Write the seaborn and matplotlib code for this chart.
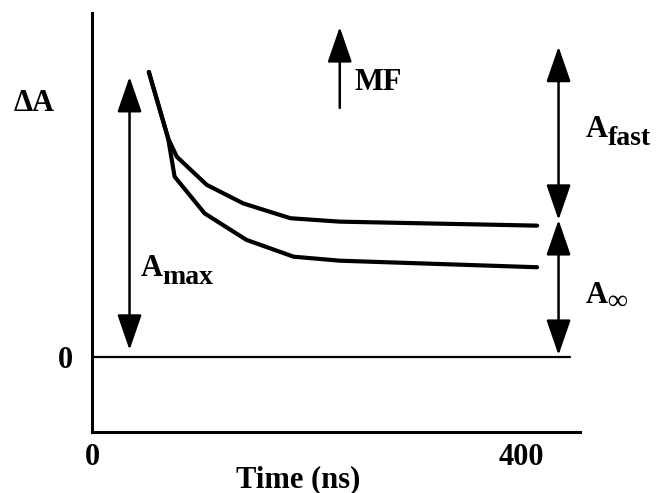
import pandas as pd
import seaborn as sns
import matplotlib.pyplot as plt
from matplotlib.patches import FancyArrowPatch

# decay traces: time (ns), dA scaled so the peak is 1
t_upper = [53, 71, 79, 107, 141, 185, 231, 415]
a_upper = [1.00, 0.767, 0.703, 0.604, 0.539, 0.487, 0.475, 0.461]
t_lower = [53, 71, 77, 105, 144, 188, 231, 415]
a_lower = [1.00, 0.767, 0.633, 0.504, 0.411, 0.352, 0.338, 0.315]

# baseline (dA = 0)
t_base = [0, 446]
a_base = [0, 0]

# arrows: (time, y_from, y_to)
arrow_amax = (35, 0.025, 0.983)
arrow_afast = (435, 0.481, 1.089)
arrow_ainf = (435, 0.007, 0.481)
arrow_mf = (231, 0.874, 1.158)

x_ticks = [0, 400]
x_ticklabels = ['0', '400']

sns.set_theme(style='white')
plt.rcParams['font.family'] = ['Liberation Serif', 'DejaVu Serif']
plt.rcParams['font.weight'] = 'bold'
plt.rcParams['text.color'] = 'black'
plt.rcParams['axes.labelcolor'] = 'black'

FS = 22

df = pd.concat([
    pd.DataFrame({'t': t_upper, 'dA': a_upper, 'trace': 'upper'}),
    pd.DataFrame({'t': t_lower, 'dA': a_lower, 'trace': 'lower'}),
])

fig = plt.figure(figsize=(6.66, 4.93), dpi=100)
ax = fig.add_axes([92 / 666, 1 - 432 / 493, 488 / 666, 419 / 493])

sns.lineplot(data=df, x='t', y='dA', units='trace', estimator=None,
             color='black', lw=3.0, sort=False, ax=ax, legend=False)
sns.lineplot(x=t_base, y=a_base, color='black', lw=1.6, ax=ax)

ax.set_xlim(0, 455)
ax.set_ylim(-0.263, 1.207)
for side in ['top', 'right']:
    ax.spines[side].set_visible(False)
for side in ['left', 'bottom']:
    ax.spines[side].set_color('black')
    ax.spines[side].set_linewidth(2.2)

ax.set_xticks(x_ticks)
ax.set_xticklabels(x_ticklabels, fontsize=FS, fontweight='bold')
ax.set_yticks([0])
ax.set_yticklabels(['0'], fontsize=FS, fontweight='bold')
ax.tick_params(axis='x', length=0, pad=8, colors='black')
ax.tick_params(axis='y', length=0, pad=14, colors='black')
ax.set_xlabel('Time (ns)', fontsize=FS, fontweight='bold')
ax.set_ylabel('')
ax.xaxis.set_label_coords(0.423, -0.080)
ax.text(-54, 0.891, 'ΔA', fontsize=FS, fontweight='bold', ha='center', va='center',
        clip_on=False)


def varrow(spec, style):
    t, y0, y1 = spec
    ax.add_patch(FancyArrowPatch((t, y0), (t, y1), arrowstyle=style,
                                 mutation_scale=20, lw=1.8, color='black',
                                 shrinkA=0, shrinkB=0, clip_on=False))


both = '<|-|>,head_length=1.1,head_width=0.38'
varrow(arrow_amax, both)
varrow(arrow_afast, both)
varrow(arrow_ainf, both)
varrow(arrow_mf, '-|>,head_length=1.1,head_width=0.38')


def sublabel(x, y, main, sub, drop=5):
    txt = ax.text(x, y, main, fontsize=FS, fontweight='bold', va='baseline',
                  ha='left', clip_on=False)
    ax.annotate(sub, xy=(1, 0), xycoords=txt, xytext=(0, -drop),
                textcoords='offset points', fontsize=FS - 2, fontweight='bold',
                va='bottom', ha='left', annotation_clip=False)


sublabel(45, 0.284, 'A', 'max')
sublabel(460, 0.772, 'A', 'fast')
sublabel(460, 0.189, 'A', '∞', drop=3)
ax.text(245, 0.937, 'MF', fontsize=FS, fontweight='bold', va='baseline', ha='left')

fig.savefig('out.png', dpi=100)
